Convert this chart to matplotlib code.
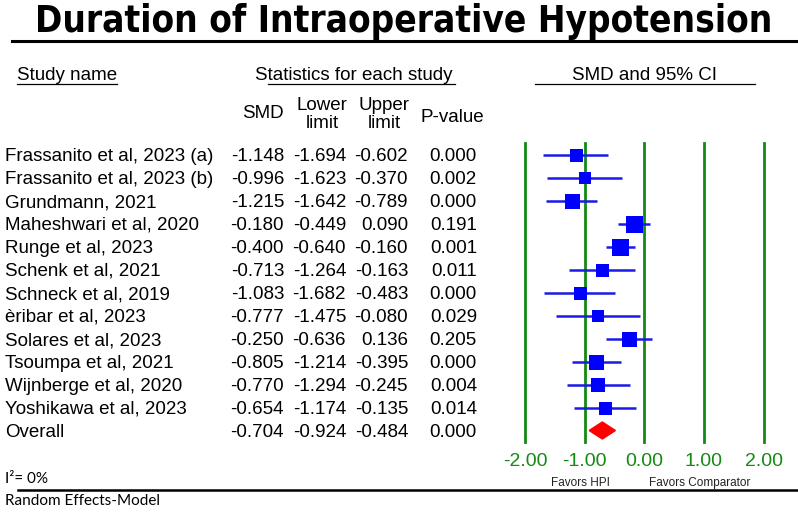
import matplotlib
matplotlib.use("Agg")
import matplotlib.pyplot as plt
from matplotlib.patches import Polygon

studies = ["Frassanito et al, 2023 (a)", "Frassanito et al, 2023 (b)", "Grundmann, 2021",
           "Maheshwari et al, 2020", "Runge et al, 2023", "Schenk et al, 2021",
           "Schneck et al, 2019", "èribar et al, 2023", "Solares et al, 2023",
           "Tsoumpa et al, 2021", "Wijnberge et al, 2020", "Yoshikawa et al, 2023"]
smd = [-1.148, -0.996, -1.215, -0.180, -0.400, -0.713, -1.083, -0.777, -0.250, -0.805, -0.770, -0.654]
lower = [-1.694, -1.623, -1.642, -0.449, -0.640, -1.264, -1.682, -1.475, -0.636, -1.214, -1.294, -1.174]
upper = [-0.602, -0.370, -0.789, 0.090, -0.160, -0.163, -0.483, -0.080, 0.136, -0.395, -0.245, -0.135]
pvals = [0.000, 0.002, 0.000, 0.191, 0.001, 0.011, 0.000, 0.029, 0.205, 0.000, 0.004, 0.014]
weights = [13, 12, 15, 17, 17, 13, 13, 12, 15, 15, 14, 13]
overall_label = "Overall"
overall = (-0.704, -0.924, -0.484, 0.000)
ticks = [-2.0, -1.0, 0.0, 1.0, 2.0]
tick_labels = ["-2.00", "-1.00", "0.00", "1.00", "2.00"]

W, H = 798, 515
fig = plt.figure(figsize=(W / 100, H / 100), dpi=100)
bg = fig.add_axes([0, 0, 1, 1])
bg.set_xlim(0, W)
bg.set_ylim(H, 0)
bg.axis("off")

sans = "Liberation Sans"
green = "#138a13"

# Title (condensed bold)
bg.text(404, 21, "Duration of Intraoperative Hypotension", ha="center", va="center",
        fontsize=26.5, fontweight="bold", family="DejaVu Sans", fontstretch="condensed")
bg.plot([12, 798], [41, 41], color="black", lw=2.2)

# Headers
fs = 13.5
bg.text(17, 75, "Study name", ha="left", va="center", fontsize=fs, family=sans)
bg.plot([17, 117], [84, 84], color="black", lw=0.9)
bg.text(354, 75, "Statistics for each study", ha="center", va="center", fontsize=fs, family=sans)
bg.plot([268, 455], [84, 84], color="black", lw=0.9)
bg.text(645, 75, "SMD and 95% CI", ha="center", va="center", fontsize=fs, family=sans)
bg.plot([535, 755], [84, 84], color="black", lw=0.9)

bg.text(284, 114, "SMD", ha="right", va="center", fontsize=fs, family=sans)
bg.text(322, 106, "Lower", ha="center", va="center", fontsize=fs, family=sans)
bg.text(322, 124, "limit", ha="center", va="center", fontsize=fs, family=sans)
bg.text(384, 106, "Upper", ha="center", va="center", fontsize=fs, family=sans)
bg.text(384, 124, "limit", ha="center", va="center", fontsize=fs, family=sans)
bg.text(452, 117, "P-value", ha="center", va="center", fontsize=fs, family=sans)

# Forest axes
top_px, bot_px = 143, 442
x0_px, x1_px = 525, 763.6
ax = fig.add_axes([x0_px / W, 1 - bot_px / H, (x1_px - x0_px) / W, (bot_px - top_px) / H])
ax.set_xlim(-2.0, 2.0)
ax.set_ylim(12.5, -0.5)
ax.patch.set_alpha(0)
for s in ax.spines.values():
    s.set_visible(False)
ax.set_yticks([])
ax.set_xticks(ticks)
ax.set_xticklabels(tick_labels, family=sans)
ax.tick_params(axis="x", length=0, pad=8, labelsize=14, labelcolor=green)
for t in ticks:
    ax.axvline(t, color=green, lw=2, zorder=1, clip_on=False)

def row_to_px(i):
    return top_px + (i + 0.5) * (bot_px - top_px) / 13.0

def row_text(y, cells):
    name, m, lo, hi, p = cells
    bg.text(5, y, name, ha="left", va="center", fontsize=fs, family=sans)
    bg.text(284, y, f"{m:.3f}", ha="right", va="center", fontsize=fs, family=sans)
    bg.text(346, y, f"{lo:.3f}", ha="right", va="center", fontsize=fs, family=sans)
    bg.text(408, y, f"{hi:.3f}", ha="right", va="center", fontsize=fs, family=sans)
    bg.text(477, y, f"{p:.3f}", ha="right", va="center", fontsize=fs, family=sans)

for i, (n, m, lo, hi, p, w) in enumerate(zip(studies, smd, lower, upper, pvals, weights)):
    ax.plot([lo, hi], [i, i], color="#1a1ae6", lw=1.8, zorder=3, solid_capstyle="butt")
    ax.plot([m], [i], marker="s", color="#0000ff", markersize=w * 0.72, zorder=4,
            markeredgewidth=0, clip_on=False)
    row_text(row_to_px(i) + 2, (n, m, lo, hi, p))

k = len(studies)
om, olo, ohi, op = overall
ax.add_patch(Polygon([[olo, k], [om, k - 0.37], [ohi, k], [om, k + 0.37]], closed=True,
                     facecolor="#ff0000", edgecolor="#ff0000", zorder=4))
row_text(row_to_px(k) + 2, (overall_label, om, olo, ohi, op))

# Footer
bg.text(580, 483, "Favors HPI", ha="center", va="center", fontsize=8.5, family=sans, color="#222222")
bg.text(700, 483, "Favors Comparator", ha="center", va="center", fontsize=8.5, family=sans, color="#222222")
bg.plot([18, 798], [490, 490], color="black", lw=1.8)
bg.text(5, 479, "I²= 0%", ha="left", va="center", fontsize=11, family="Lato")
bg.text(5, 501, "Random Effects-Model", ha="left", va="center", fontsize=11, family="Lato")

fig.savefig("out.png", dpi=100)
